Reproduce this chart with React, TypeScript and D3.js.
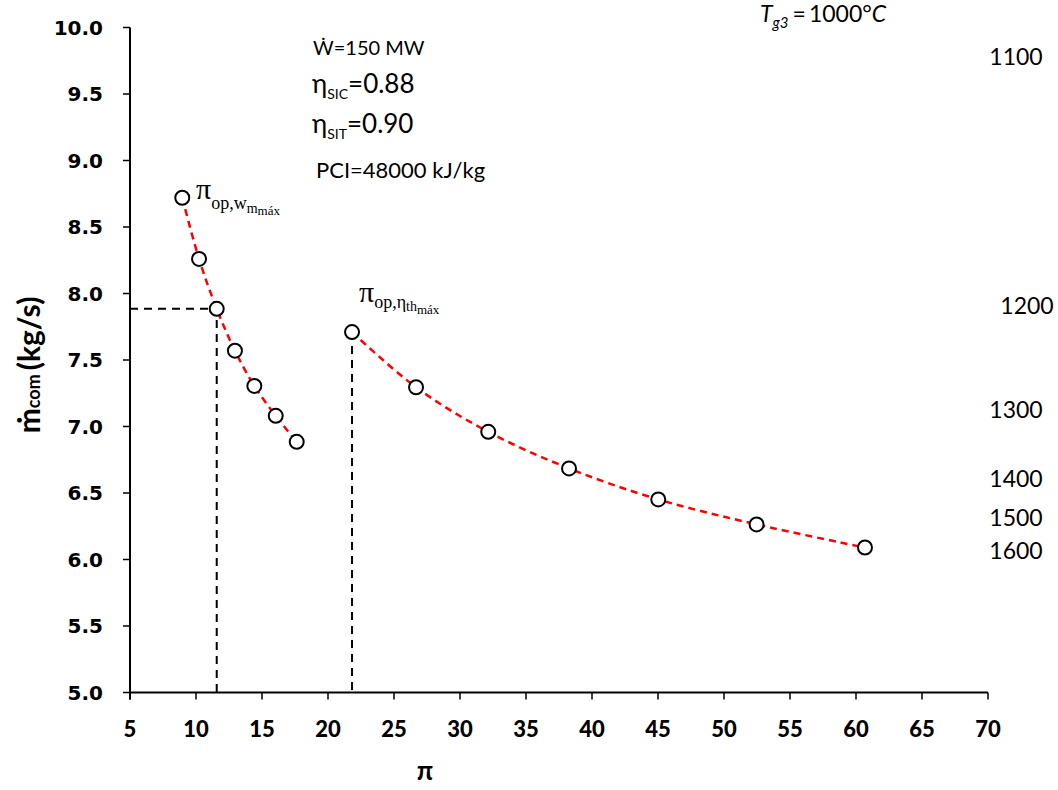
import React from "react";
import * as d3 from "d3";

const xTicks = [5, 10, 15, 20, 25, 30, 35, 40, 45, 50, 55, 60, 65, 70];
const yTicks = [5.0, 5.5, 6.0, 6.5, 7.0, 7.5, 8.0, 8.5, 9.0, 9.5, 10.0];

const leftPi = [8.96, 10.23, 11.57, 12.95, 14.42, 16.04, 17.63];
const leftM = [8.72, 8.26, 7.885, 7.57, 7.305, 7.08, 6.885];

const rightPi = [21.82, 26.67, 32.14, 38.26, 45.02, 52.47, 60.68];
const rightM = [7.71, 7.295, 6.96, 6.685, 6.452, 6.264, 6.09];

const tempLabels = ["1100", "1200", "1300", "1400", "1500", "1600"];
const tempLabelY = [57, 306, 410, 479, 518, 551];
const tempLabelX = [1016, 1027, 1016, 1016, 1016, 1016];

const guidePoint = { pi: 11.57, m: 7.885 };
const guidePoint2 = { pi: 21.82, m: 7.71 };

export default function App() {
  const W = 1058, H = 790;
  const x = d3.scaleLinear().domain([5, 70]).range([130, 988]);
  const y = d3.scaleLinear().domain([5, 10]).range([692.5, 27.5]);

  const line = d3
    .line<[number, number]>()
    .x((d) => x(d[0]))
    .y((d) => y(d[1]))
    .curve(d3.curveCatmullRom.alpha(0.5));

  const leftData: [number, number][] = leftPi.map((p, i) => [p, leftM[i]]);
  const rightData: [number, number][] = rightPi.map((p, i) => [p, rightM[i]]);

  const x0 = x(5);
  const y0 = y(5);

  return (
    <div style={{ position: "absolute", left: 0, top: 0, width: W, height: H, background: "#fff" }}>
      <svg width={W} height={H} style={{ display: "block" }}>
        <rect width={W} height={H} fill="#fff" />
        {/* guide lines */}
        <path
          d={`M${x0},${y(guidePoint.m)}H${x(guidePoint.pi)}V${y0}`}
          fill="none"
          stroke="#000"
          strokeWidth={2}
          strokeDasharray="8,6"
        />
        <path
          d={`M${x(guidePoint2.pi)},${y(guidePoint2.m)}V${y0}`}
          fill="none"
          stroke="#000"
          strokeWidth={2}
          strokeDasharray="8,6"
        />
        {/* curves */}
        <path d={line(leftData) || ""} fill="none" stroke="#ff0000" strokeWidth={2.5} strokeDasharray="7,5" />
        <path d={line(rightData) || ""} fill="none" stroke="#ff0000" strokeWidth={2.5} strokeDasharray="7,5" />
        {/* axes */}
        <line x1={x0} x2={x(70)} y1={y0} y2={y0} stroke="#000" strokeWidth={2} />
        <line x1={x0} x2={x0} y1={y(10)} y2={y0 + 7} stroke="#000" strokeWidth={2} />
        {yTicks.map((t) => (
          <g key={"y" + t}>
            <line x1={x0 - 7} x2={x0} y1={y(t)} y2={y(t)} stroke="#000" strokeWidth={1.5} />
            <text
              x={x0 - 27}
              y={y(t)}
              dy="0.36em"
              textAnchor="end"
              fontFamily="DejaVu Sans"
              fontWeight="bold"
              fontSize={20}
              fill="#000"
            >
              {t.toFixed(1)}
            </text>
          </g>
        ))}
        {xTicks.map((t) => (
          <g key={"x" + t}>
            <line x1={x(t)} x2={x(t)} y1={y0} y2={y0 + 7} stroke="#000" strokeWidth={1.5} />
            <text
              x={x(t)}
              y={y0 + 44}
              textAnchor="middle"
              fontFamily="Lato"
              fontWeight="900"
              fontSize={22}
              fill="#000"
            >
              {t}
            </text>
          </g>
        ))}
        {/* markers */}
        {[...leftData, ...rightData].map((d, i) => (
          <circle key={"c" + i} cx={x(d[0])} cy={y(d[1])} r={7} fill="#fff" stroke="#000" strokeWidth={2} />
        ))}
        {/* axis titles */}
        <text x={425} y={780} textAnchor="middle" fontFamily="Lato" fontWeight="bold" fontSize={26} fill="#000">
          π
        </text>
        <text
          transform={`translate(40,${365}) rotate(-90)`}
          textAnchor="middle"
          fontFamily="Lato"
          fontWeight="bold"
          fill="#000"
        >
          <tspan fontSize={30}>ṁ</tspan>
          <tspan fontSize={18}>com</tspan>
          <tspan fontSize={30} dx={4}>(kg/s)</tspan>
        </text>
        {/* annotations */}
        <text x={313} y={55} fontFamily="Lato" fontSize={20} fill="#000">
          Ẇ=150 MW
        </text>
        <text x={312} y={93} fontFamily="Lato" fontSize={26} fill="#000">
          η<tspan fontSize={14} dy={6}>SIC</tspan>
          <tspan dy={-6}>=0.88</tspan>
        </text>
        <text x={312} y={133} fontFamily="Lato" fontSize={26} fill="#000">
          η<tspan fontSize={14} dy={6}>SIT</tspan>
          <tspan dy={-6}>=0.90</tspan>
        </text>
        <text x={316} y={178} fontFamily="Lato" fontSize={22} fill="#000">
          PCI=48000 kJ/kg
        </text>
        {/* pi labels */}
        <text x={196} y={199} fontFamily="Liberation Serif" fontSize={30} fill="#000">
          π
          <tspan fontSize={18} dy={10}>op,w</tspan>
          <tspan fontSize={14} dy={4}>m</tspan>
          <tspan fontSize={13} dy={2}>máx</tspan>
        </text>
        <text x={359} y={302} fontFamily="Liberation Serif" fontSize={30} fill="#000">
          π
          <tspan fontSize={18} dy={6}>op,η</tspan>
          <tspan fontSize={14} dy={3}>th</tspan>
          <tspan fontSize={13} dy={3}>máx</tspan>
        </text>
        {/* temperature header */}
        <text x={760} y={22} fontFamily="Lato" fontSize={23} fill="#000">
          <tspan fontStyle="italic">T</tspan>
          <tspan fontStyle="italic" fontSize={15} dy={6}>g3</tspan>
          <tspan dy={-6} dx={4}>=</tspan>
          <tspan dx={3}>1000°</tspan>
          <tspan fontStyle="italic">C</tspan>
        </text>
        {tempLabels.map((t, i) => (
          <text
            key={"t" + t}
            x={tempLabelX[i]}
            y={tempLabelY[i]}
            dy="0.36em"
            textAnchor="middle"
            fontFamily="Lato"
            fontSize={23}
            fill="#000"
          >
            {t}
          </text>
        ))}
      </svg>
    </div>
  );
}
